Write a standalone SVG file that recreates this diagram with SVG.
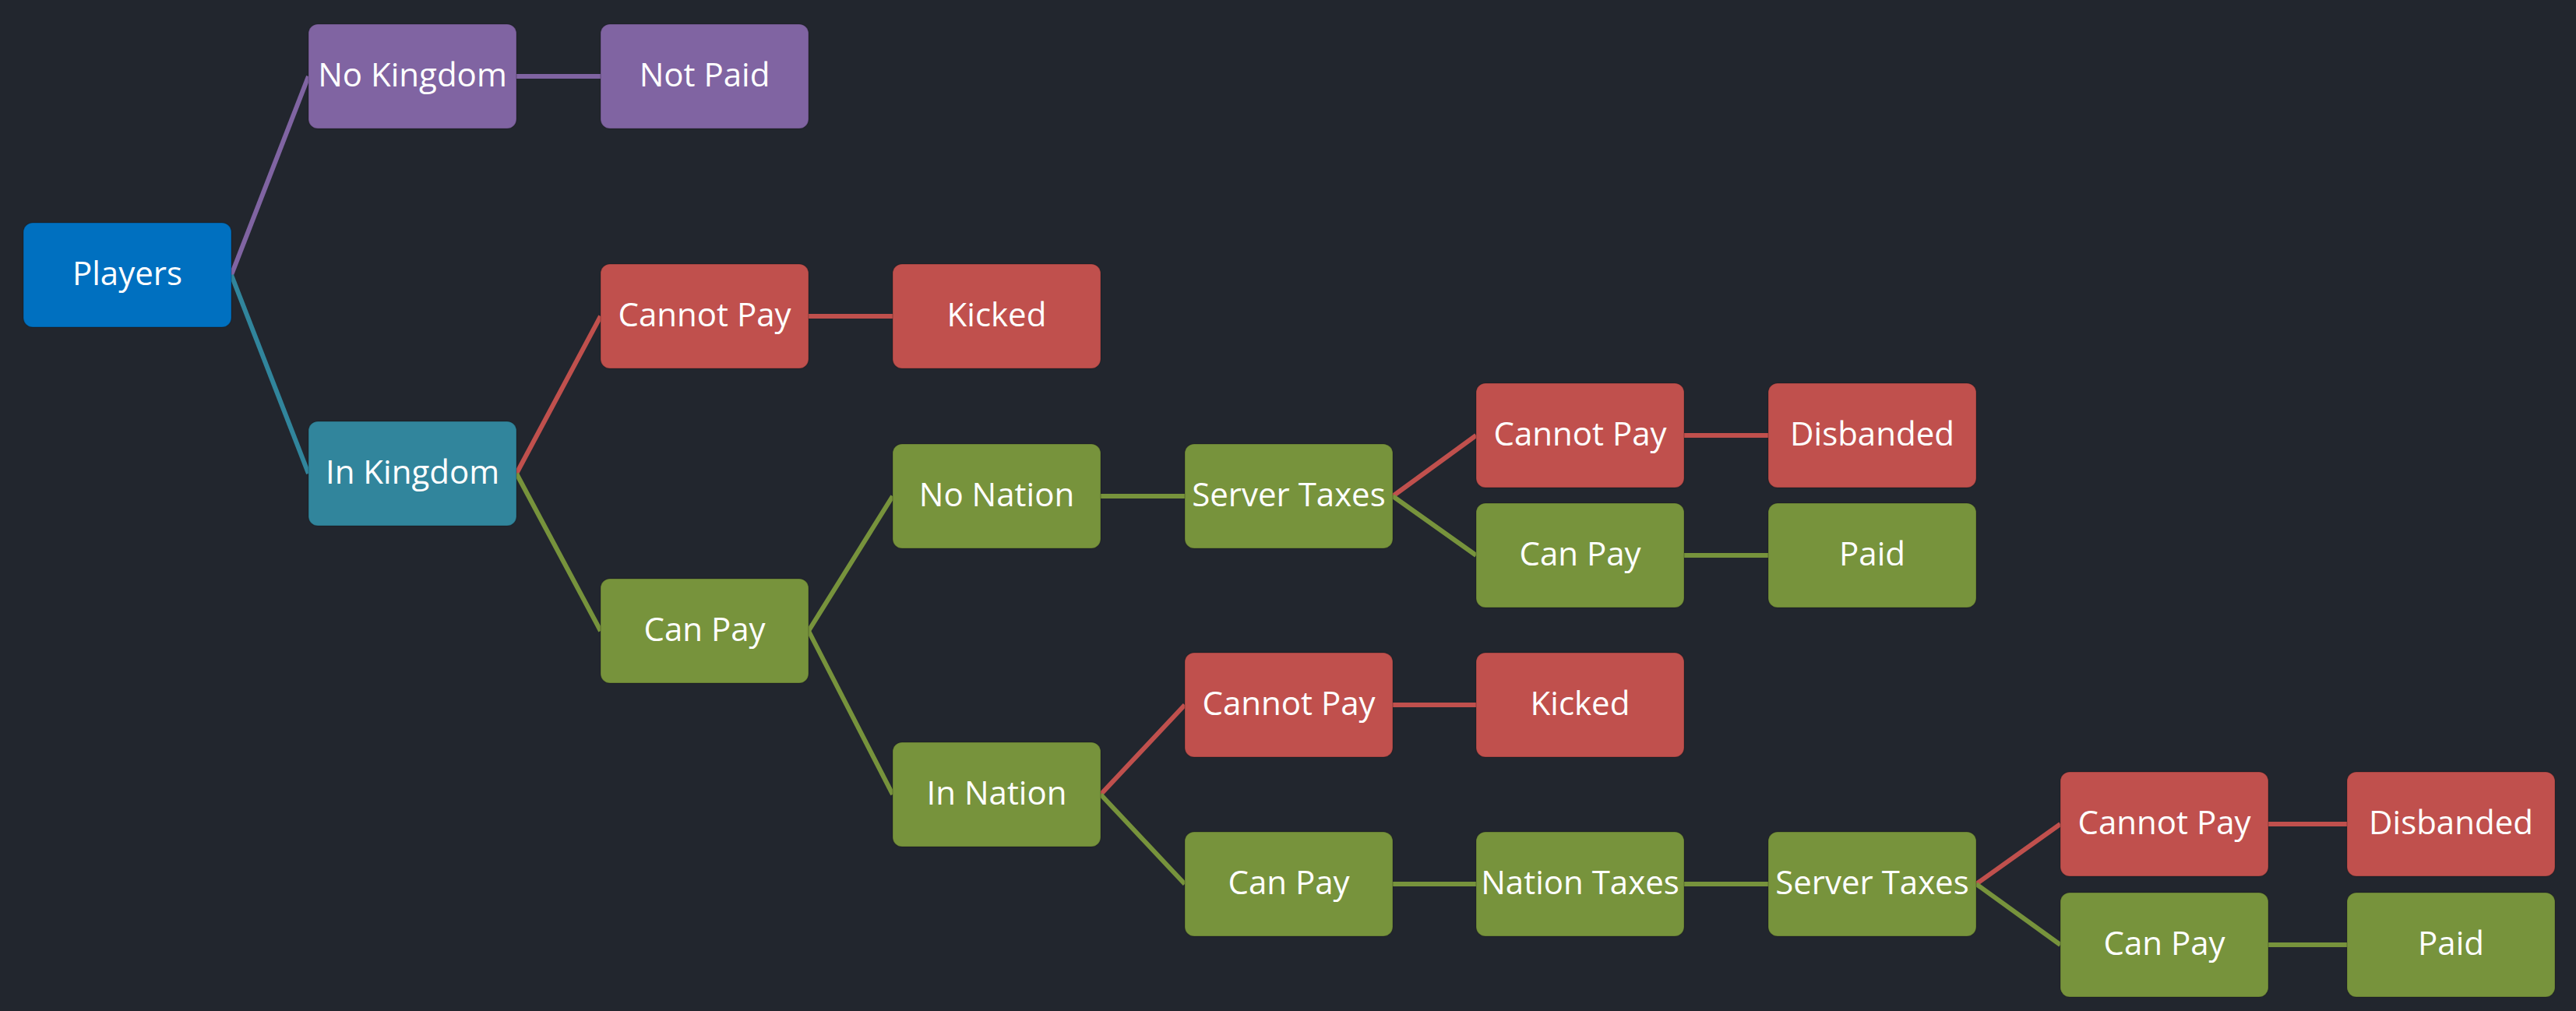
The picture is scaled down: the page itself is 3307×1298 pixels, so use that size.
<svg xmlns="http://www.w3.org/2000/svg" width="3307" height="1298" viewBox="0 0 3307 1298">
<style>
.n rect{stroke:#000;stroke-opacity:0.18;stroke-width:1.5}
.n text{font-family:"Open Sans","Noto Sans","Liberation Sans",sans-serif;font-size:42px;fill:#fff;text-anchor:middle}
.blue rect{fill:#0070c0}
.purple rect{fill:#8064a2}
.teal rect{fill:#31859c}
.red rect{fill:#c0504d}
.green rect{fill:#77933c}
#edges line{stroke-width:6;fill:none}
.ep{stroke:#8064a2}.et{stroke:#31859c}.er{stroke:#c0504d}.eg{stroke:#77933c}
</style>
<rect width="3307" height="1298" fill="#22262e"/>
<g id="edges">
<line class="ep" x1="297" y1="353" x2="396" y2="98"/>
<line class="et" x1="297" y1="353" x2="396" y2="608"/>
<line class="ep" x1="663" y1="98" x2="771" y2="98"/>
<line class="er" x1="663" y1="608" x2="771" y2="406"/>
<line class="eg" x1="663" y1="608" x2="771" y2="810"/>
<line class="er" x1="1038" y1="406" x2="1146" y2="406"/>
<line class="eg" x1="1038" y1="810" x2="1146" y2="637"/>
<line class="eg" x1="1038" y1="810" x2="1146" y2="1020"/>
<line class="eg" x1="1413" y1="637" x2="1521" y2="637"/>
<line class="er" x1="1788" y1="637" x2="1895" y2="559"/>
<line class="eg" x1="1788" y1="637" x2="1895" y2="713"/>
<line class="er" x1="2162" y1="559" x2="2270" y2="559"/>
<line class="eg" x1="2162" y1="713" x2="2270" y2="713"/>
<line class="er" x1="1413" y1="1020" x2="1521" y2="905"/>
<line class="eg" x1="1413" y1="1020" x2="1521" y2="1135"/>
<line class="er" x1="1788" y1="905" x2="1895" y2="905"/>
<line class="eg" x1="1788" y1="1135" x2="1895" y2="1135"/>
<line class="eg" x1="2162" y1="1135" x2="2270" y2="1135"/>
<line class="er" x1="2537" y1="1135" x2="2645" y2="1058"/>
<line class="eg" x1="2537" y1="1135" x2="2645" y2="1213"/>
<line class="er" x1="2912" y1="1058" x2="3013" y2="1058"/>
<line class="eg" x1="2912" y1="1213" x2="3013" y2="1213"/>
</g>
<g id="players" class="n blue"><rect x="30" y="286" width="267" height="134" rx="12"/><text x="163.5" y="366">Players</text></g>
<g id="no-kingdom" class="n purple"><rect x="396" y="31" width="267" height="134" rx="12"/><text x="529.5" y="111">No Kingdom</text></g>
<g id="not-paid" class="n purple"><rect x="771" y="31" width="267" height="134" rx="12"/><text x="904.5" y="111">Not Paid</text></g>
<g id="in-kingdom" class="n teal"><rect x="396" y="541" width="267" height="134" rx="12"/><text x="529.5" y="621">In Kingdom</text></g>
<g id="k-cannot-pay" class="n red"><rect x="771" y="339" width="267" height="134" rx="12"/><text x="904.5" y="419">Cannot Pay</text></g>
<g id="k-kicked" class="n red"><rect x="1146" y="339" width="267" height="134" rx="12"/><text x="1279.5" y="419">Kicked</text></g>
<g id="k-can-pay" class="n green"><rect x="771" y="743" width="267" height="134" rx="12"/><text x="904.5" y="823">Can Pay</text></g>
<g id="no-nation" class="n green"><rect x="1146" y="570" width="267" height="134" rx="12"/><text x="1279.5" y="650">No Nation</text></g>
<g id="nn-server-taxes" class="n green"><rect x="1521" y="570" width="267" height="134" rx="12"/><text x="1654.5" y="650">Server Taxes</text></g>
<g id="nn-cannot-pay" class="n red"><rect x="1895" y="492" width="267" height="134" rx="12"/><text x="2028.5" y="572">Cannot Pay</text></g>
<g id="nn-disbanded" class="n red"><rect x="2270" y="492" width="267" height="134" rx="12"/><text x="2403.5" y="572">Disbanded</text></g>
<g id="nn-can-pay" class="n green"><rect x="1895" y="646" width="267" height="134" rx="12"/><text x="2028.5" y="726">Can Pay</text></g>
<g id="nn-paid" class="n green"><rect x="2270" y="646" width="267" height="134" rx="12"/><text x="2403.5" y="726">Paid</text></g>
<g id="in-nation" class="n green"><rect x="1146" y="953" width="267" height="134" rx="12"/><text x="1279.5" y="1033">In Nation</text></g>
<g id="in-cannot-pay" class="n red"><rect x="1521" y="838" width="267" height="134" rx="12"/><text x="1654.5" y="918">Cannot Pay</text></g>
<g id="in-kicked" class="n red"><rect x="1895" y="838" width="267" height="134" rx="12"/><text x="2028.5" y="918">Kicked</text></g>
<g id="in-can-pay" class="n green"><rect x="1521" y="1068" width="267" height="134" rx="12"/><text x="1654.5" y="1148">Can Pay</text></g>
<g id="nation-taxes" class="n green"><rect x="1895" y="1068" width="267" height="134" rx="12"/><text x="2028.5" y="1148">Nation Taxes</text></g>
<g id="in-server-taxes" class="n green"><rect x="2270" y="1068" width="267" height="134" rx="12"/><text x="2403.5" y="1148">Server Taxes</text></g>
<g id="in-st-cannot-pay" class="n red"><rect x="2645" y="991" width="267" height="134" rx="12"/><text x="2778.5" y="1071">Cannot Pay</text></g>
<g id="in-disbanded" class="n red"><rect x="3013" y="991" width="267" height="134" rx="12"/><text x="3146.5" y="1071">Disbanded</text></g>
<g id="in-st-can-pay" class="n green"><rect x="2645" y="1146" width="267" height="134" rx="12"/><text x="2778.5" y="1226">Can Pay</text></g>
<g id="in-paid" class="n green"><rect x="3013" y="1146" width="267" height="134" rx="12"/><text x="3146.5" y="1226">Paid</text></g>
</svg>
